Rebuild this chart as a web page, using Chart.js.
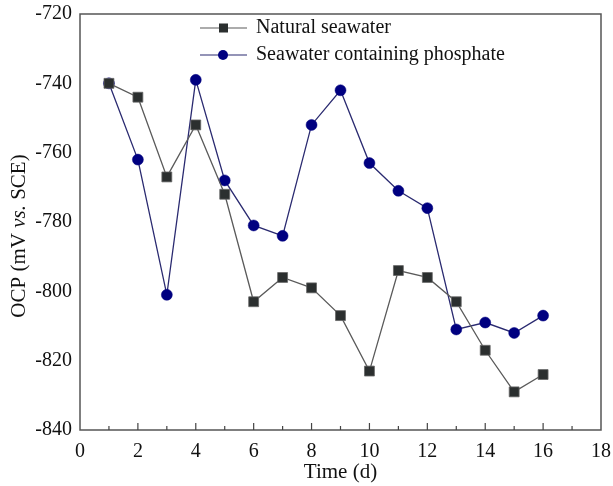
<!DOCTYPE html>
<html>
<head>
<meta charset="utf-8">
<script src="https://cdn.jsdelivr.net/npm/chart.js@4"></script>
<style>
html,body{margin:0;padding:0;background:#fff;}
#wrap{width:613px;height:486px;}
</style>
</head>
<body>
<div id="wrap"><canvas id="c" width="613" height="486"></canvas></div>
<script>
const days = [1,2,3,4,5,6,7,8,9,10,11,12,13,14,15,16];
const naturalSeawater = [-740,-744,-767,-752,-772,-803,-796,-799,-807,-823,-794,-796,-803,-817,-829,-824];
const phosphateSeawater = [-740,-762,-801,-739,-768,-781,-784,-752,-742,-763,-771,-776,-811,-809,-812,-807];
const seriesLabels = ['Natural seawater','Seawater containing phosphate'];
const xTitle = 'Time (d)';
const yTitleParts = [['OCP (mV ', false], ['vs.', true], [' SCE)', false]];

const FONT = '"Liberation Serif", "Times New Roman", serif';
const natColor = '#2b2f2f';
const natLine = '#5a5a5a';
const phoColor = '#000080';
const phoLine = '#2a2a70';

const custom = {
  id: 'custom',
  afterDraw(chart) {
    const ctx = chart.ctx;
    const xs = chart.scales.x, ys = chart.scales.y;
    const a = chart.chartArea;
    ctx.save();
    ctx.strokeStyle = '#555';
    ctx.lineWidth = 1.5;
    ctx.strokeRect(a.left, a.top, a.right - a.left, a.bottom - a.top);
    ctx.lineWidth = 1.2;
    ctx.strokeStyle = '#444';
    ctx.beginPath();
    for (let v = 1; v < 18; v++) {
      const px = xs.getPixelForValue(v);
      const len = v % 2 === 0 ? 7 : 4;
      ctx.moveTo(px, a.bottom); ctx.lineTo(px, a.bottom - len);
    }
    for (let v = -830; v > -720; v += 10) {
      const py = ys.getPixelForValue(v);
      const len = v % 20 === 0 ? 7 : 4;
      ctx.moveTo(a.left, py); ctx.lineTo(a.left + len, py);
    }
    ctx.stroke();
    ctx.fillStyle = '#111';
    ctx.font = '21px ' + FONT;
    ctx.textAlign = 'center';
    ctx.textBaseline = 'middle';
    ctx.fillText(xTitle, (a.left + a.right) / 2, 472);
    ctx.save();
    ctx.translate(19, (a.top + a.bottom) / 2 + 14);
    ctx.rotate(-Math.PI / 2);
    let total = 0;
    const widths = yTitleParts.map(([t, it]) => {
      ctx.font = (it ? 'italic ' : '') + '21px ' + FONT;
      const w = ctx.measureText(t).width; total += w; return w;
    });
    let x0 = -total / 2;
    ctx.textAlign = 'left';
    yTitleParts.forEach(([t, it], i) => {
      ctx.font = (it ? 'italic ' : '') + '21px ' + FONT;
      ctx.fillText(t, x0, 0);
      x0 += widths[i];
    });
    ctx.restore();
    const rows = [
      {label: chart.data.datasets[0].label, line: natLine, fill: natColor, style: 'rect', y: 28},
      {label: chart.data.datasets[1].label, line: phoLine, fill: phoColor, style: 'circle', y: 55}
    ];
    rows.forEach(r => {
      ctx.strokeStyle = r.line;
      ctx.lineWidth = 1.2;
      ctx.beginPath(); ctx.moveTo(200, r.y); ctx.lineTo(247, r.y); ctx.stroke();
      ctx.fillStyle = r.fill;
      if (r.style === 'rect') { ctx.fillRect(219, r.y - 4.5, 9, 9); }
      else { ctx.beginPath(); ctx.arc(223, r.y, 5, 0, Math.PI * 2); ctx.fill(); }
      ctx.fillStyle = '#111';
      ctx.font = '20px ' + FONT;
      ctx.textAlign = 'left';
      ctx.textBaseline = 'middle';
      ctx.fillText(r.label, 256, r.y);
    });
    ctx.restore();
  }
};

new Chart(document.getElementById('c'), {
  type: 'line',
  data: {
    datasets: [
      {
        label: seriesLabels[0],
        data: days.map((d, i) => ({x: d, y: naturalSeawater[i]})),
        borderColor: natLine,
        borderWidth: 1.3,
        backgroundColor: natColor,
        pointStyle: 'rect',
        pointRadius: 7,
        pointBorderColor: '#666',
        pointBorderWidth: 0.8,
        pointBackgroundColor: natColor,
        tension: 0
      },
      {
        label: seriesLabels[1],
        data: days.map((d, i) => ({x: d, y: phosphateSeawater[i]})),
        borderColor: phoLine,
        borderWidth: 1.3,
        backgroundColor: phoColor,
        pointStyle: 'circle',
        pointRadius: 5.5,
        pointBorderColor: phoColor,
        pointBorderWidth: 0.5,
        pointBackgroundColor: phoColor,
        tension: 0
      }
    ]
  },
  options: {
    responsive: false,
    animation: false,
    events: [],
    layout: {padding: {left: 0, top: 14, right: 12, bottom: 0}},
    plugins: {legend: {display: false}, tooltip: {enabled: false}},
    scales: {
      x: {
        type: 'linear', min: 0, max: 18,
        afterFit: s => { s.height = 56; s.paddingLeft = 0; s.paddingRight = 0; },
        grid: {display: true, drawOnChartArea: false, drawTicks: false},
        border: {display: false},
        ticks: {stepSize: 2, padding: 10, color: '#111', font: {family: FONT, size: 20}, maxRotation: 0}
      },
      y: {
        type: 'linear', min: -840, max: -720,
        afterFit: s => { s.width = 80; s.paddingTop = 0; s.paddingBottom = 0; },
        grid: {display: true, drawOnChartArea: false, drawTicks: false},
        border: {display: false},
        ticks: {stepSize: 20, padding: 8, color: '#111', font: {family: FONT, size: 20}}
      }
    }
  },
  plugins: [custom]
});
</script>
</body>
</html>
